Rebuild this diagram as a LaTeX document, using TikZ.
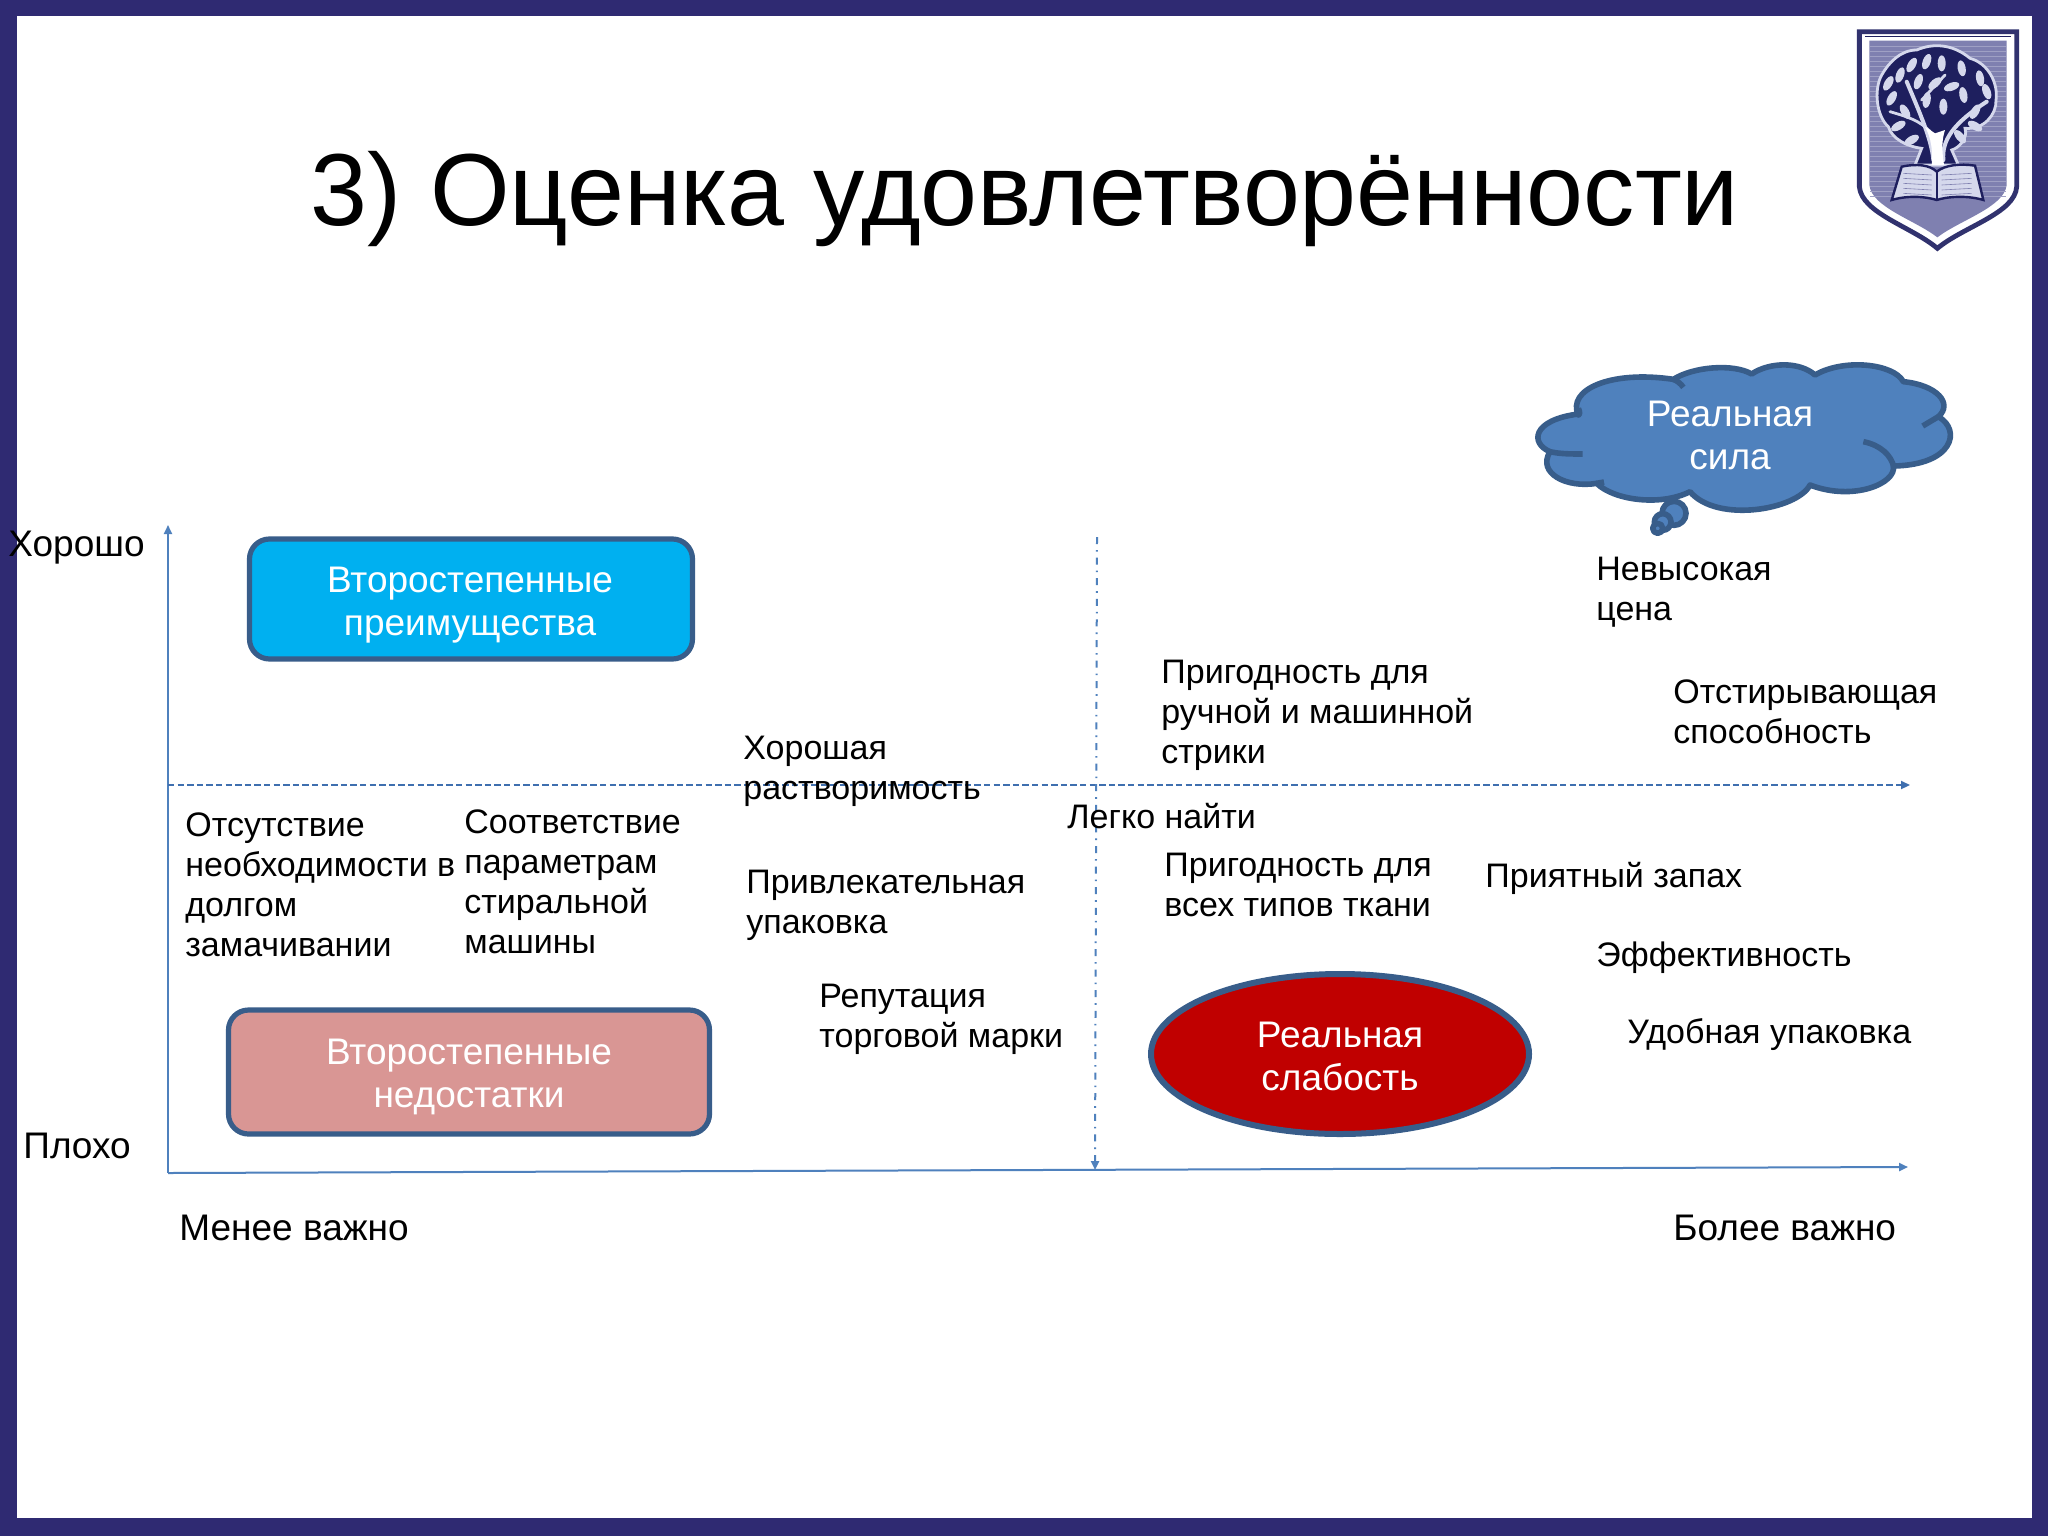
\documentclass[tikz,border=0pt]{standalone}
\usepackage{fontspec}
\setmainfont{Liberation Sans}
\usetikzlibrary{arrows.meta,shapes.geometric}
\definecolor{framec}{HTML}{2F2A72}
\definecolor{axisc}{HTML}{4F81BD}
\definecolor{dashc}{HTML}{3F6FAF}
\definecolor{strokec}{HTML}{385D8A}
\definecolor{bluefill}{HTML}{00B0F0}
\definecolor{pinkfill}{HTML}{D99694}
\definecolor{redfill}{HTML}{C00000}
\definecolor{navyc}{HTML}{1E1F5E}
\definecolor{shieldc}{HTML}{7F80B0}
\definecolor{leafc}{HTML}{D5D8EC}
\tikzset{
  txt/.style={anchor=west,inner sep=0pt,align=left,text=black,font=\fontsize{17}{20}\selectfont},
  axtxt/.style={txt,font=\fontsize{18.5}{20}\selectfont},
  boxtxt/.style={text=white,align=center,inner sep=0pt,font=\fontsize{18.5}{21.5}\selectfont},
  roundbox/.style={draw=strokec,line width=2.6pt,rounded corners=10pt,inner sep=0pt},
  axisline/.style={draw=axisc,line width=1pt,-{Triangle[length=4.5pt,width=4pt]}},
  dashline/.style={draw=dashc,line width=1pt,dash pattern=on 3.2pt off 1.6pt,-{Triangle[length=4.5pt,width=4pt]}},
  dotline/.style={draw=axisc,line width=1pt,dash pattern=on 3.5pt off 3pt on 0.8pt off 3pt,-{Triangle[length=4.5pt,width=4pt]}},
  cloudline/.style={draw=strokec,line width=2.8pt,line join=round},
  leaf/.style={fill=leafc},
}
\begin{document}
\begin{tikzpicture}[x=0.5pt,y=-0.5pt]
\useasboundingbox (0,0) rectangle (2048,1536);
\fill[framec] (0,0) rectangle (2048,1536);
\fill[white] (17,16) rectangle (2032,1518);
% title
\node[inner sep=0pt,font=\fontsize{51.2}{58}\selectfont] (title) at (1025,199) {3) Оценка удовлетворённости};
% logo
\begin{scope}[shift={(1820,0)},x=0.16667pt,y=-0.16667pt]
  \filldraw[fill=white,draw=navyc!80!shieldc,line width=2.4pt] (118,95) -- (590,95) -- (590,560) .. controls (585,640) and (430,680) .. (352,745) .. controls (275,680) and (125,640) .. (118,560) -- cycle;
  \fill[shieldc] (148,122) -- (560,122) -- (560,555) .. controls (552,622) and (420,660) .. (352,712) .. controls (285,660) and (155,622) .. (148,555) -- cycle;
  \draw[navyc,line width=0.4pt] (135,108) -- (573,108);
  \foreach \yy in {140,155,...,600}{\draw[white!25!shieldc,line width=0.4pt] (150,\yy) -- (558,\yy);}
  % crown
  \filldraw[fill=navyc,draw=leafc,line width=1.4pt] (185,225) .. controls (205,190) and (240,150) .. (290,150) .. controls (340,128) and (400,133) .. (450,175) .. controls (505,190) and (535,250) .. (528,300) .. controls (530,345) and (490,390) .. (435,385) .. controls (445,415) and (415,445) .. (395,450) -- (415,495) -- (285,495) -- (305,445) .. controls (260,440) and (215,415) .. (205,380) .. controls (170,350) and (160,270) .. (185,225) -- cycle;
  % leaves
  \foreach \px/\py/\ang in {205/250/60,240/225/70,275/195/60,320/185/70,365/190/90,425/205/100,480/235/100,500/275/110,215/295/60,255/335/120,320/300/80,370/320/90,430/285/100,465/335/60,235/378/30,275/420/30,465/378/-30,420/410/-50,345/250/40,295/245/70,395/260/20}{
    \fill[leaf,rotate around={\ang:(\px,\py)}] (\px,\py) ellipse (24 and 12);
  }
  % trunk
  \draw[leafc,line width=2pt,line cap=round] (340,480) .. controls (335,420) and (300,340) .. (260,245);
  \draw[leafc,line width=2pt,line cap=round] (370,480) .. controls (365,420) and (400,370) .. (500,305);
  \draw[leafc,line width=1.4pt,line cap=round] (305,300) -- (375,225);
  \draw[leafc,line width=1.4pt,line cap=round] (335,400) .. controls (300,360) and (260,350) .. (210,335);
  \fill[white] (335,495) .. controls (340,430) and (325,400) .. (315,380) -- (345,400) -- (375,390) .. controls (365,420) and (365,450) .. (372,495) -- cycle;
  % book
  \filldraw[fill=leafc,draw=navyc,line width=1.2pt] (215,600) -- (245,500) .. controls (290,490) and (330,495) .. (350,515) .. controls (375,495) and (420,490) .. (465,497) -- (490,600) .. controls (440,585) and (380,590) .. (350,600) .. controls (320,590) and (265,585) .. (215,600) -- cycle;
  \draw[navyc,line width=1.2pt] (350,515) -- (350,600);
  \foreach \yy in {520,535,...,580}{
    \draw[shieldc,line width=0.3pt] (250,\yy) -- (335,\yy+5);
    \draw[shieldc,line width=0.3pt] (365,\yy+5) -- (455,\yy);
  }
\end{scope}
% axes
\coordinate (origin) at (168,1173);
\coordinate (ytop) at (168,525);
\coordinate (xend) at (1908,1167);
\coordinate (hstart) at (168,785);
\coordinate (hend) at (1910,785);
\coordinate (vtop) at (1097,537);
\coordinate (vend) at (1095,1170);
\draw[axisline] (origin) -- (ytop);
\draw[axisline] (origin) -- (xend);
\draw[dashline] (hstart) -- (hend);
\draw[dotline] (vtop) -- (vend);
% boxes
\node[roundbox,fill=bluefill,minimum width=221.5pt,minimum height=60pt] (adv) at (471,599) {};
\node[boxtxt] at (470,605) {Второстепенные\\преимущества};
\node[roundbox,fill=pinkfill,minimum width=240.5pt,minimum height=62pt] (dis) at (469,1072) {};
\node[boxtxt] at (469,1077) {Второстепенные\\недостатки};
\node[ellipse,draw=strokec,line width=3pt,fill=redfill,minimum width=189pt,minimum height=80pt,inner sep=0pt] (weak) at (1340,1054) {};
\node[boxtxt] at (1340,1056) {Реальная\\слабость};
% cloud
\begin{scope}[shift={(1500,340)},x=0.16667pt,y=-0.16667pt]
  \filldraw[fill=axisc,cloudline] (235,225) .. controls (200,150) and (330,90) .. (520,118)
     .. controls (580,80) and (700,70) .. (755,102)
     .. controls (810,65) and (900,65) .. (945,105)
     .. controls (1030,55) and (1180,70) .. (1210,125)
     .. controls (1310,135) and (1360,190) .. (1315,230)
     .. controls (1385,270) and (1360,375) .. (1180,378)
     .. controls (1190,430) and (1060,485) .. (930,435)
     .. controls (890,510) and (650,550) .. (570,455)
     .. controls (480,500) and (340,480) .. (290,430)
     .. controls (200,445) and (110,400) .. (150,335)
     .. controls (90,310) and (95,240) .. (235,222) -- cycle;
  \draw[cloudline] (235,225) .. controls (240,225) and (240,215) .. (235,205);
  \draw[cloudline] (150,335) .. controls (180,342) and (215,342) .. (248,342);
  \draw[cloudline] (290,430) -- (312,426);
  \draw[cloudline] (520,118) .. controls (530,122) and (542,130) .. (550,142);
  \draw[cloudline] (1315,230) -- (1268,258);
  \draw[cloudline] (1090,305) .. controls (1140,315) and (1175,345) .. (1182,385);
  \filldraw[fill=axisc,cloudline] (522,520) circle (36);
  \filldraw[fill=axisc,cloudline] (488,546) circle (25);
  \filldraw[fill=axisc,cloudline] (473,565) circle (15);
  \coordinate (cloudc) at (690,285);
\end{scope}
\node[boxtxt] (cloudtxt) at (cloudc) {Реальная\\сила};
% labels
\node[axtxt] (t1) at (8,548) {Хорошо};
\node[axtxt] (t2) at (23,1146) {Плохо};
\node[axtxt] (t3) at (179,1228) {Менее важно};
\node[axtxt] (t4) at (1673,1228) {Более важно};
\node[txt] (t5) at (1596,592) {Невысокая\\цена};
\node[txt] (t6) at (1161,715) {Пригодность для\\ручной и машинной\\стрики};
\node[txt] (t7) at (1673,712) {Отстирывающая\\способность};
\node[txt] (t8) at (743,771) {Хорошая\\растворимость};
\node[txt] (t9) at (1067,816) {Легко найти};
\node[txt] (t10) at (185,885) {Отсутствие\\необходимости в\\долгом\\замачивании};
\node[txt] (t11) at (464,882) {Соответствие\\параметрам\\стиральной\\машины};
\node[txt] (t12) at (746,905) {Привлекательная\\упаковка};
\node[txt] (t13) at (1164,885) {Пригодность для\\всех типов ткани};
\node[txt] (t14) at (1485,878) {Приятный запах};
\node[txt] (t15) at (1596,958) {Эффективность};
\node[txt] (t16) at (1627,1035) {Удобная упаковка};
\node[txt] (t17) at (819,1019) {Репутация\\торговой марки};
\end{tikzpicture}
\end{document}
